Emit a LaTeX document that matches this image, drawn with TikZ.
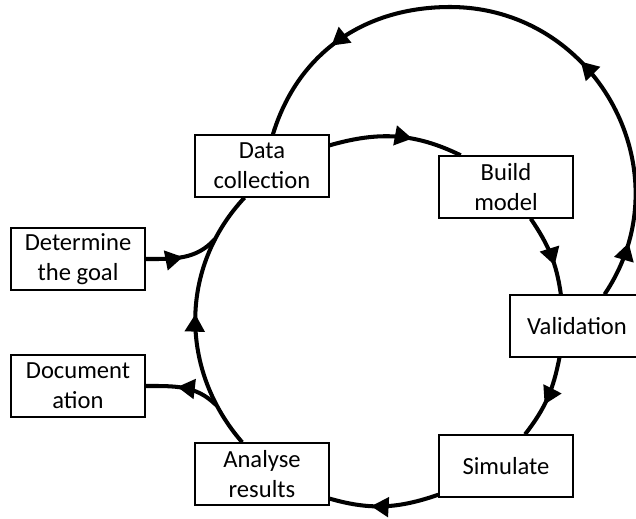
\documentclass[tikz,border=0pt]{standalone}
\usepackage{fontspec}
\setmainfont{Carlito}
\usetikzlibrary{positioning, arrows.meta, decorations.markings}

\tikzset{
  stepbox/.style={draw=black, line width=0.8pt, fill=white, align=center,
    minimum width=2.68cm, minimum height=1.24cm, inner sep=2pt,
    font=\fontsize{14}{17}\selectfont},
  flow/.style={line width=2.3pt, black, postaction={decorate},
    decoration={markings, mark=at position #1 with {\arrow{Triangle[length=10pt,width=11pt]}}}},
  flow/.default=0.6,
  feedback/.style={line width=2.3pt, black, postaction={decorate},
    decoration={markings,
      mark=at position 0.09 with {\arrow{Triangle[length=10pt,width=11pt]}},
      mark=at position 0.40 with {\arrow{Triangle[length=10pt,width=11pt]}},
      mark=at position 0.83 with {\arrow{Triangle[length=10pt,width=11pt]}}}}
}

\begin{document}
\begin{tikzpicture}[x=0.02cm, y=0.02cm]
  \useasboundingbox (0,0) rectangle (636,-518);

  \node[stepbox] (data) at (262,-166) {Data\\collection};
  \node[stepbox] (build) at (506,-187) {Build\\model};
  \node[stepbox] (valid) at (577,-326) {Validation};
  \node[stepbox] (simulate) at (506,-466) {Simulate};
  \node[stepbox] (analyse) at (262,-474) {Analyse\\results};
  \node[stepbox] (goal) at (78,-259) {Determine\\the goal};
  \node[stepbox] (doc) at (78,-386) {Document\\ation};

  \coordinate (looptop) at (450,-7);
  \coordinate (joinin) at (215,-239);
  \coordinate (joinout) at (216,-405);

  % main cycle
  \draw[flow=0.62] (data.17) to[out=16, in=154] (build.145);
  \draw[flow=0.64] (build.-52) to[out=-56, in=98] (valid.117);
  \draw[flow=0.58] (valid.241) to[out=-101, in=52] (simulate.59);
  \draw[flow=0.62] (simulate.203) to[out=199, in=-16] (analyse.-20);
  \draw[flow=0.52] (analyse.122) to[out=131, in=-133] (data.241);

  \draw[feedback] (valid.49) to[out=56, in=0, looseness=1.15] (looptop)
      to[out=180, in=73] (data.71);

  \draw[flow=0.5] (goal.east) to[out=0, in=228] (joinin);
  \draw[flow=0.58] (joinout) to[out=135, in=0] (doc.east);
\end{tikzpicture}
\end{document}
